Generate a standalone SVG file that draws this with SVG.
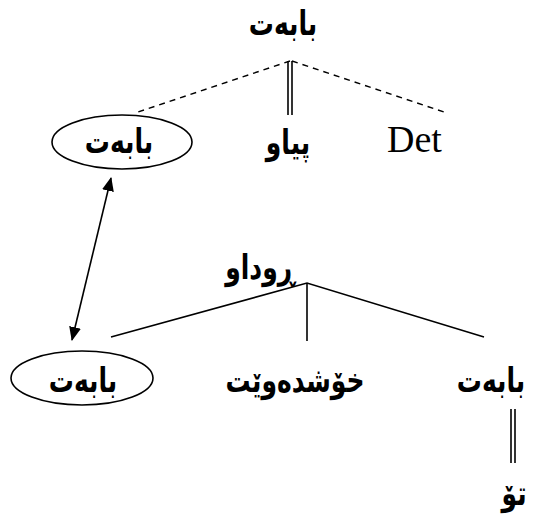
<svg xmlns="http://www.w3.org/2000/svg" width="533" height="519" viewBox="0 0 533 519">
<style>
.ar{font-family:"DejaVu Sans",sans-serif;font-weight:bold;font-size:25px;text-anchor:middle;fill:#000}
.lat{font-family:"Liberation Serif",serif;font-size:38px;fill:#000}
.ln{stroke:#000;stroke-width:1.6;fill:none}
.dash{stroke:#000;stroke-width:1.4;fill:none;stroke-dasharray:6 5}
.el{stroke:#000;stroke-width:1.6;fill:#fff}
</style>
<defs>
<marker id="ah" viewBox="0 0 14 12" refX="13" refY="6" markerWidth="14" markerHeight="12" markerUnits="userSpaceOnUse" orient="auto-start-reverse">
<path d="M0,0 L14,6 L0,12 z" fill="#000"/>
</marker>
</defs>
<g id="connectors">
<line class="dash" x1="290" y1="61" x2="135" y2="113"/>
<line class="dash" x1="292" y1="61" x2="447" y2="113"/>
<line class="ln" x1="288" y1="61" x2="288" y2="115" stroke-width="1.3"/>
<line class="ln" x1="292" y1="61" x2="292" y2="115" stroke-width="1.3"/>
<line class="ln" x1="111" y1="178" x2="72" y2="340" stroke-width="1.3" marker-start="url(#ah)" marker-end="url(#ah)"/>
<polyline class="ln" points="111,337 307,283 484,337"/>
<line class="ln" x1="307" y1="283" x2="307" y2="341"/>
<line class="ln" x1="511" y1="409" x2="511" y2="463" stroke-width="1.3"/>
<line class="ln" x1="515" y1="409" x2="515" y2="463" stroke-width="1.3"/>
</g>
<g id="n-top"><text class="ar" transform="translate(283,35) scale(1,1.35)">بابەت</text></g>
<g id="n-babet1"><ellipse class="el" cx="122" cy="142" rx="70" ry="27"/><text class="ar" transform="translate(119,153) scale(1,1.35)">بابەت</text></g>
<g id="n-piyaw"><text class="ar" transform="translate(288,154) scale(1,1.35)">پیاو</text></g>
<g id="n-det"><text class="lat" x="387" y="152">Det</text></g>
<g id="n-rudaw"><text class="ar" transform="translate(260,279) scale(1,1.35)">ڕوداو</text></g>
<g id="n-babet2"><ellipse class="el" cx="82" cy="378" rx="71" ry="27"/><text class="ar" transform="translate(83,392) scale(1,1.35)">بابەت</text></g>
<g id="n-xosh"><text class="ar" transform="translate(295,392) scale(1,1.35)">خۆشدەوێت</text></g>
<g id="n-babet3"><text class="ar" transform="translate(491,392) scale(1,1.35)">بابەت</text></g>
<g id="n-to"><text class="ar" transform="translate(514,505) scale(1,1.35)">تۆ</text></g>
</svg>
